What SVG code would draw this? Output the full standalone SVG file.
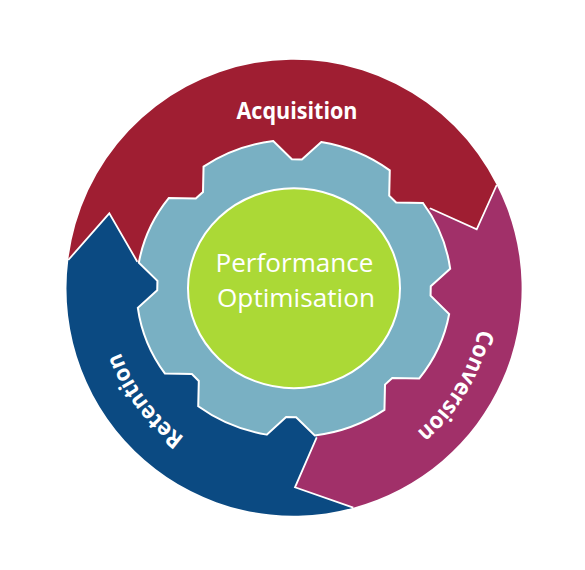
<svg xmlns="http://www.w3.org/2000/svg" width="585" height="570" viewBox="0 0 585 570">
  <defs>
    <style>
      .seg-red { fill: #9f1e32; }
      .seg-mag { fill: #a13069; }
      .seg-blue { fill: #0b4a82; }
      .sep { fill: none; stroke: #ffffff; stroke-width: 1.8; stroke-linejoin: miter; }
      .gear { fill: #79b0c3; stroke: #ffffff; stroke-width: 2; vector-effect: non-scaling-stroke; }
      .core { fill: #abd936; stroke: #ffffff; stroke-width: 2; vector-effect: non-scaling-stroke; }
      .lbl { font-family: "Open Sans", "Liberation Sans", sans-serif; font-weight: 700; font-size: 23px; fill: #ffffff; }
      .core-lbl { font-family: "Open Sans", "Liberation Sans", sans-serif; font-weight: 400; font-size: 26px; fill: #ffffff; text-anchor: middle; }
    </style>
    <path id="arcConversion" d="M 459.3 196.7 A 189 189 0 0 1 290.7 477.3"/>
    <path id="arcRetention" d="M 316.5 471.9 A 185 185 0 0 1 123.7 216.0"/>
  </defs>
  <rect width="585" height="570" fill="#ffffff"/>

  <g id="acquisition">
    <path class="seg-red" d="M 294 288.3 L 137.3 261.7 L 109.3 213.3 L 68.3 260 A 227 227 0 0 1 496.7 185 L 476.7 229.3 L 430 208.3 Z"/>
    <text class="lbl" x="297" y="119.3" text-anchor="middle" textLength="121" lengthAdjust="spacingAndGlyphs">Acquisition</text>
  </g>

  <g id="conversion">
    <path class="seg-mag" d="M 294 288.3 L 430 208.3 L 476.7 229.3 L 496.7 185 A 227 227 0 0 1 353.3 507.7 L 295 487.3 L 316.7 437.3 Z"/>
    <text class="lbl"><textPath href="#arcConversion" startOffset="50%" text-anchor="middle" textLength="122" lengthAdjust="spacingAndGlyphs">Conversion</textPath></text>
  </g>

  <g id="retention">
    <path class="seg-blue" d="M 294 288.3 L 316.7 437.3 L 295 487.3 L 353.3 507.7 A 227 227 0 0 1 68.3 260 L 109.3 213.3 L 137.3 261.7 Z"/>
    <text class="lbl"><textPath href="#arcRetention" startOffset="50%" text-anchor="middle" textLength="108" lengthAdjust="spacingAndGlyphs">Retention</textPath></text>
  </g>

  <g id="connectors">
    <polyline class="sep" points="430,208.3 476.7,229.3 496.7,185"/>
    <polyline class="sep" points="316.7,437.3 295,487.3 353.3,507.7"/>
    <polyline class="sep" points="137.3,261.7 109.3,213.3 68.3,260"/>
  </g>

  <g id="gear" transform="translate(294 288.3) scale(1 0.943) rotate(1.2)">
    <path class="gear" d="M 155.7 -24 L 136.7 -5 L 136.7 5 L 155.7 24
      A 157.5 157.5 0 0 1 127.07 93.13 L 100.2 93.12 L 93.12 100.2 L 93.13 127.07
      A 157.5 157.5 0 0 1 24 155.7 L 5 136.7 L -5 136.7 L -24 155.7
      A 157.5 157.5 0 0 1 -93.13 127.07 L -93.12 100.2 L -100.2 93.12 L -127.07 93.13
      A 157.5 157.5 0 0 1 -155.7 24 L -136.7 5 L -136.7 -5 L -155.7 -24
      A 157.5 157.5 0 0 1 -127.07 -93.13 L -100.2 -93.12 L -93.12 -100.2 L -93.13 -127.07
      A 157.5 157.5 0 0 1 -24 -155.7 L -5 -136.7 L 5 -136.7 L 24 -155.7
      A 157.5 157.5 0 0 1 93.13 -127.07 L 93.12 -100.2 L 100.2 -93.12 L 127.07 -93.13
      A 157.5 157.5 0 0 1 155.7 -24 Z"/>
  </g>

  <g id="core">
    <ellipse class="core" cx="294" cy="288.2" rx="106" ry="100"/>
    <text class="core-lbl" x="294.5" y="271.7" textLength="158" lengthAdjust="spacingAndGlyphs">Performance</text>
    <text class="core-lbl" x="296" y="306.5" textLength="158" lengthAdjust="spacingAndGlyphs">Optimisation</text>
  </g>
</svg>
